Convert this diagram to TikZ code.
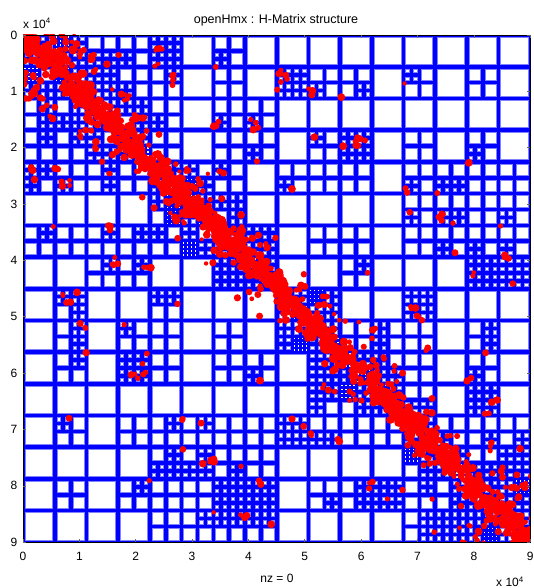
\documentclass[tikz,border=0pt]{standalone}
\usepackage{fontspec}
\setmainfont{Liberation Sans}
\definecolor{mblue}{rgb}{0,0,1}
\definecolor{mred}{rgb}{1,0,0}
\definecolor{edgeb}{RGB}{130,130,255}
\newcommand\cellsz{31.7}
\newcommand\gapw{4.6}
\newcommand\wsq[3]{\fill[white,draw=edgeb,line width=0.7pt] ({#1+\gapw/2},{#2+\gapw/2}) rectangle ++({#3-\gapw},{#3-\gapw});}
\newcommand\tsq[2]{\fill[white] ({#1+1.4},{#2+1.4}) rectangle ++(1.3,1.3);}
\newcommand\quadc[4]{%
  \if#1w\wsq{#2}{#3}{#4}\fi
  \if#1s\pgfmathsetmacro\Hhh{#4/2}%
    \wsq{#2}{#3}{\Hhh}\wsq{#2+\Hhh}{#3}{\Hhh}\wsq{#2}{#3+\Hhh}{\Hhh}\wsq{#2+\Hhh}{#3+\Hhh}{\Hhh}\fi
  \if#1t\pgfmathsetmacro\Hhh{#4/4}%
    \foreach \ti in {0,1,2,3} {\foreach \tj in {0,1,2,3} {\tsq{#2+\ti*\Hhh}{#3+\tj*\Hhh}}}\fi}
\def\fourq#1#2#3#4\relax{%
  \quadc{#1}{\Hcx}{\Hcy}{\Hhq}%
  \quadc{#2}{\Hcx+\Hhq}{\Hcy}{\Hhq}%
  \quadc{#3}{\Hcx}{\Hcy+\Hhq}{\Hhq}%
  \quadc{#4}{\Hcx+\Hhq}{\Hcy+\Hhq}{\Hhq}}
\def\codeW{W}\def\codeD{D}
\newcommand\drawcell[3]{%
  \pgfmathsetmacro\Hcx{23+#1*\cellsz}%
  \pgfmathsetmacro\Hcy{35+#2*\cellsz}%
  \pgfmathsetmacro\Hhq{\cellsz/2}%
  \edef\tmpc{#3}%
  \ifx\tmpc\codeW\wsq{\Hcx}{\Hcy}{\cellsz}%
  \else\ifx\tmpc\codeD\fourq tsst\relax
  \else\expandafter\fourq\tmpc\relax\fi\fi}
\tikzset{
  lab/.style={inner sep=0pt,font=\fontsize{12}{14}\selectfont},
  reddot/.style={fill=mred},
  tickm/.style={draw=black!60,line width=0.6pt}
}
\begin{document}
\begin{tikzpicture}[x=1pt,y=-1pt]
\useasboundingbox (0,0) rectangle (533,588);
% blue background of the plot
\fill[mblue] (23,35) rectangle (530.2,542.2);
% block structure
\foreach \rowl [count=\r from 0] in {
 {D,tsws,wwss,wwsw,ssss,W,wwsw,W,W,W,W,W,W,W,W,W},
 {twss,D,ssss,wwsw,wsww,W,wwww,W,ssss,wwsw,wwws,W,swww,W,wwww,W},
 {wsws,wsss,D,ssws,wwsw,W,wwsw,wwsw,W,W,W,W,W,W,W,W},
 {wsww,wsww,swss,D,wwww,W,wwww,wwsw,W,swww,ssss,W,wwww,W,wwsw,W},
 {sssw,wwsw,wsws,wwww,D,swts,swww,W,wwsw,wwww,wwww,W,wwsw,wwss,wwww,wwww},
 {W,W,W,W,stwt,D,ssws,W,W,W,W,W,wwsw,wwss,wwww,wwsw},
 {wsww,wwww,wsww,wsww,swww,swts,D,ssss,W,wwww,wwww,W,wwww,wwsw,wwsw,wwsw},
 {W,W,wsww,wsww,W,W,ssss,D,W,W,wsww,W,W,W,ssss,ssss},
 {W,ssws,W,W,ssww,W,W,W,D,tsss,W,W,ssss,W,W,W},
 {W,wsws,W,swww,wwww,W,wwww,W,ssst,D,wwww,swsw,wwww,W,wsws,W},
 {W,wsww,W,ssss,wwww,W,wwww,wwsw,W,ssss,D,swss,wwww,W,wwsw,W},
 {W,W,W,W,W,W,W,W,W,sssw,tsws,D,wwss,W,ssss,W},
 {W,swww,W,wwww,wsww,wsww,wwww,wwww,ssss,wwss,wwww,wwww,D,wwsw,wwws,wwws},
 {W,W,W,W,wsss,wsss,wwws,wwww,W,W,W,W,tsws,D,wwss,ssss},
 {W,wwww,W,wsww,wwww,wwww,ssss,ssss,W,wwws,wsws,ssss,wsww,wsws,D,stss},
 {W,W,W,W,wwww,wsww,ssww,ssww,W,W,W,W,wsws,ssss,ssst,D}} {
  \foreach \code [count=\c from 0] in \rowl {\drawcell{\c}{\r}{\code}}
}
% red non-zeros
\pgfmathsetseed{4711}
\begin{scope}
\clip (23,35) rectangle (530.2,542.2);
\foreach \i in {1,...,1300} {
  \pgfmathsetmacro\Rt{rnd*510-1}
  \pgfmathsetmacro\Rp{(rnd+rnd-1)*10}
  \pgfmathsetmacro\Ru{\Rp+(rnd-0.5)*5}
  \pgfmathsetmacro\Rv{-\Rp+(rnd-0.5)*5}
  \pgfmathsetmacro\Rr{2.5+rnd*2}
  \fill[reddot] ({23+\Rt+\Ru},{35+\Rt+\Rv}) circle[radius=\Rr pt];
}
\foreach \i in {1,...,170} {
  \pgfmathsetmacro\Rt{rnd*507.2}
  \pgfmathsetmacro\Rp{(rnd-0.5)*50}
  \pgfmathsetmacro\Ru{\Rp+(rnd-0.5)*8}
  \pgfmathsetmacro\Rv{-\Rp+(rnd-0.5)*8}
  \pgfmathsetmacro\Rr{2+rnd*2}
  \fill[reddot] ({23+\Rt+\Ru},{35+\Rt+\Rv}) circle[radius=\Rr pt];
}
\foreach \px/\py/\nn/\sp in {
 55/40/10/12, 30/70/12/10, 28/95/6/7, 40/55/8/10,
 70/44/6/7, 80/54/4/5, 92/58/4/5, 105/65/2/3, 118/55/1/1, 158/50/5/6, 156/65/2/3, 173/80/4/6,
 215/67/1/1, 278/73/1/1, 278/90/1/1, 31/90/5/7, 45/103/4/6, 52/116/2/3, 123/100/5/7, 140/118/6/10,
 216/122/3/5, 253/125/4/6, 256/160/2/3, 86/136/5/6, 98/144/3/5, 115/153/3/5, 36/167/3/5, 55/170/2/4,
 35/180/1/1, 67/183/4/6, 109/174/2/3, 188/175/5/7, 222/173/2/3, 53/227/1/1, 110/229/3/4, 115/263/4/6,
 148/267/3/5, 183/216/6/8, 218/221/4/6, 238/228/3/5, 255/236/3/5, 170/200/5/8, 198/185/4/6,
 286/76/5/7, 312/93/3/5, 342/98/1/1, 405/83/1/1, 315/137/1/1, 354/148/7/12, 468/162/1/1, 292/189/1/1,
 408/191/2/3, 437/194/1/1, 410/213/1/1, 440/217/3/5, 453/223/1/1, 500/226/1/1, 455/253/1/1, 506/255/3/4,
 367/272/1/1, 472/273/2/3, 513/283/1/1,
 300/294/5/8, 322/300/4/6,
 412/306/3/5, 418/318/3/5, 377/330/2/6, 428/350/2/4, 470/381/2/3, 485/353/1/1, 381/361/3/5, 328/391/4/7,
 352/395/4/7, 491/407/4/8, 432/398/1/1, 292/418/1/1, 307/431/3/5, 338/438/2/4, 447/437/1/1, 490/445/2/3,
 520/448/1/1, 422/456/6/8, 503/470/2/3, 525/481/7/9, 370/485/3/4, 387/498/1/1, 403/490/1/1, 433/500/1/1,
 460/528/1/1, 478/540/1/1, 435/533/1/1, 473/533/12/15, 517/530/8/10, 490/500/6/10, 515/495/6/10,
 60/295/2/4, 69/301/2/3, 77/292/1/1, 177/303/1/1, 81/324/3/5, 87/353/1/1, 125/325/1/1, 136/367/8/14,
 259/380/1/1, 70/418/1/1, 180/421/2/3, 201/423/1/1, 182/449/1/1, 207/457/5/8, 241/467/1/1, 150/481/1/1,
 260/483/3/3, 213/513/1/1, 243/516/3/4, 272/525/1/1} {
  \foreach \k in {1,...,\nn} {
    \pgfmathsetmacro\Ra{\px+(rnd-0.5)*2*\sp}
    \pgfmathsetmacro\Rb{\py+(rnd-0.5)*2*\sp}
    \pgfmathsetmacro\Rr{2.2+rnd*1.8}
    \fill[reddot] (\Ra,\Rb) circle[radius=\Rr pt];
  }
}
\end{scope}
% axes box and ticks
\draw[black,line width=0.8pt] (23,35) rectangle (530.2,542.2);
\foreach \k in {0,...,9} {
  \pgfmathsetmacro\Tp{23+\k*56.356}
  \pgfmathsetmacro\Tq{35+\k*56.356}
  \draw[tickm] (\Tp,542.2) -- (\Tp,539);
  \draw[tickm] (\Tp,35) -- (\Tp,38.2);
  \draw[tickm] (23,\Tq) -- (26.2,\Tq);
  \draw[tickm] (530.2,\Tq) -- (527,\Tq);
  \node[lab,anchor=east] (yl\k) at (17.5,\Tq) {\k};
  \node[lab,anchor=north] (xl\k) at (\Tp,552) {\k};
}
\node[inner sep=0pt,anchor=base,font=\fontsize{12.5}{15}\selectfont] (title) at (276,23.5) {openHmx : H-Matrix structure};
\node[lab,anchor=base west] (expt) at (23,28.3) {x 10\textsuperscript{4}};
\node[lab,anchor=base west] (expb) at (496,586.7) {x 10\textsuperscript{4}};
\node[lab,anchor=base] (nz) at (277,582) {nz = 0};
\end{tikzpicture}
\end{document}
